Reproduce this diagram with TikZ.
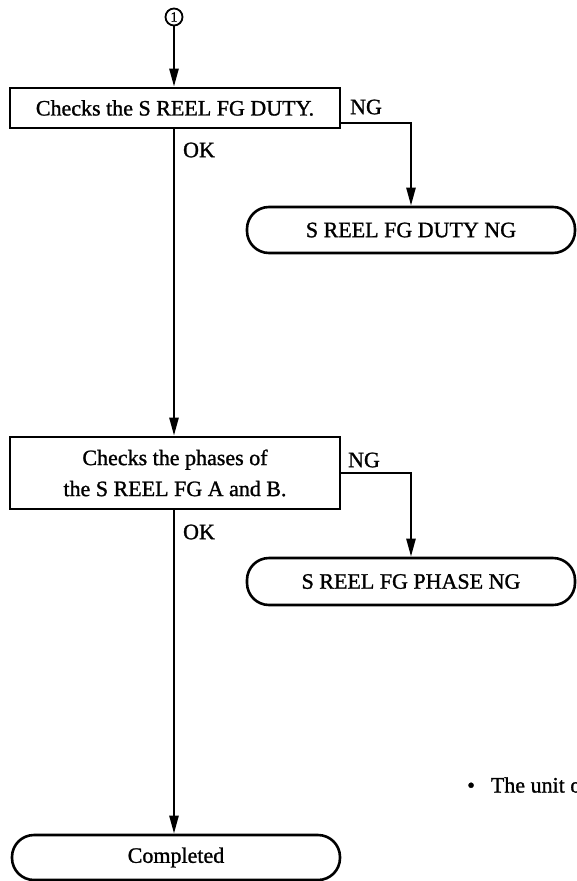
\documentclass[tikz,border=0pt]{standalone}
\usepackage{fontspec}
\setmainfont{Liberation Serif}[FakeBold=1.2]
\usetikzlibrary{arrows.meta}
\begin{document}
\begin{tikzpicture}[x=1pt,y=-1pt,
  every node/.style={font=\fontsize{22}{31}\selectfont, inner sep=0pt},
  procbox/.style={draw, line width=2.6pt, minimum width=330pt, align=center},
  term/.style={draw, line width=2.6pt, rounded corners=22pt, minimum width=328pt},
  conn/.style={line width=2.4pt},
  arr/.style={conn, -{Triangle[length=18pt,width=9pt]}},
  lbl/.style={font=\fontsize{22}{26}\selectfont}
]
\clip (0,0) rectangle (577,881);
\useasboundingbox (0,0) rectangle (577,881);

\node[draw, circle, line width=1.8pt, minimum size=17pt, font=\fontsize{14}{14}\selectfont] (start) at (174,17) {1};

\node[procbox, minimum height=40pt] (box1) at (175,108) {Checks the S REEL FG DUTY.};
\node[term, minimum height=46pt] (t1) at (411,230) {S REEL FG DUTY NG};

\node[procbox, minimum height=72pt] (box2) at (175,473) {Checks the phases of\\the S REEL FG A and B.};
\node[term, minimum height=47pt] (t2) at (411,581.5) {S REEL FG PHASE NG};

\node[term, minimum height=45pt] (t3) at (176,857.5) {Completed};

\node[lbl] (ng1) at (366,107) {NG};
\node[lbl] (ok1) at (199,150) {OK};
\node[lbl] (ng2) at (364,460) {NG};
\node[lbl] (ok2) at (199,532) {OK};

\node[lbl, anchor=west] (note) at (467,785) {\textbullet\hspace{16pt}The unit o};

\draw[arr] (start.south) -- (start.south |- box1.north);
\draw[arr] ([yshift=-15pt]box1.east) -| (t1.north);
\draw[arr] ([xshift=-1pt]box1.south) -- ([xshift=-1pt]box2.north);
\draw[arr] (box2.east) -| (t2.north);
\draw[arr] ([xshift=-1pt]box2.south) -- ([xshift=-1pt]box2.south |- t3.north);
\end{tikzpicture}
\end{document}
